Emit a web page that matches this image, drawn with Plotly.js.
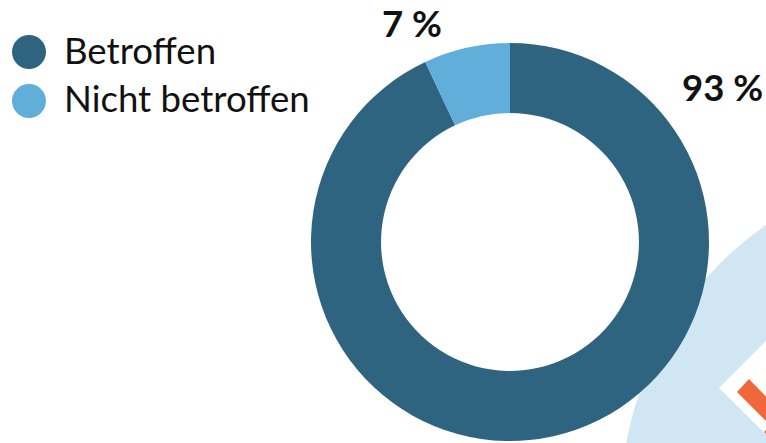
<!DOCTYPE html>
<html><head><meta charset="utf-8">
<script src="https://cdn.plot.ly/plotly-3.0.1.min.js"></script>
<style>html,body{margin:0;padding:0;background:#fff}#c{width:766px;height:443px}</style></head>
<body><div id="c"></div>
<script>
var categories=["Betroffen","Nicht betroffen"];
var values=[93,7];
var labels=["93 %","7 %"];
var colors=["#2f6481","#60aed9"];
var W=766,H=443;
function px(x){return x/W}
function py(y){return 1-y/H}
function poly(p){return p.map(function(q,i){return (i?"L":"M")+px(q[0])+" "+py(q[1])}).join(" ")+" Z"}
var data=[{type:"pie",labels:categories,values:values,hole:0.648,sort:false,direction:"clockwise",rotation:0,
 marker:{colors:colors,line:{width:0}},textinfo:"none",showlegend:false,
 domain:{x:[px(311),px(709)],y:[py(441),py(43)]}}];
var shapes=[
 {type:"circle",layer:"below",xref:"paper",yref:"paper",x0:px(621),x1:px(1299),y0:py(842),y1:py(164),fillcolor:"#d1e6f3",line:{width:0}},
 {type:"path",layer:"below",xref:"paper",yref:"paper",path:poly([[719,388],[800,307],[880,388],[800,468]]),fillcolor:"#ffffff",line:{width:0}},
 {type:"path",layer:"below",xref:"paper",yref:"paper",path:poly([[749,379],[737,392],[770,425],[780,411]]),fillcolor:"#f0673b",line:{width:0}},
 {type:"path",layer:"below",xref:"paper",yref:"paper",path:poly([[764,432],[767,429],[767,435]]),fillcolor:"#f0673b",line:{width:0}},
 {type:"circle",xref:"paper",yref:"paper",x0:px(12),x1:px(46),y0:py(69),y1:py(35),fillcolor:colors[0],line:{width:0}},
 {type:"circle",xref:"paper",yref:"paper",x0:px(12),x1:px(46),y0:py(118),y1:py(84),fillcolor:colors[1],line:{width:0}}
];
var F="Lato, sans-serif";
var annotations=[
 {text:categories[0],x:px(62),y:py(50),xref:"paper",yref:"paper",xanchor:"left",yanchor:"middle",showarrow:false,font:{family:F,size:36.6,color:"#111"}},
 {text:categories[1],x:px(62),y:py(98),xref:"paper",yref:"paper",xanchor:"left",yanchor:"middle",showarrow:false,font:{family:F,size:36.6,color:"#111"}},
 {text:"<b>"+labels[1]+"</b>",x:px(411.5),y:py(23.5),xref:"paper",yref:"paper",xanchor:"center",yanchor:"middle",showarrow:false,font:{family:F,size:36.5,color:"#111"}},
 {text:"<b>"+labels[0]+"</b>",x:px(722),y:py(87),xref:"paper",yref:"paper",xanchor:"center",yanchor:"middle",showarrow:false,font:{family:F,size:36.5,color:"#111"}}
];
Plotly.newPlot("c",data,{width:W,height:H,margin:{l:0,r:0,t:0,b:0},paper_bgcolor:"#fff",shapes:shapes,annotations:annotations},{displayModeBar:false});
</script></body></html>
